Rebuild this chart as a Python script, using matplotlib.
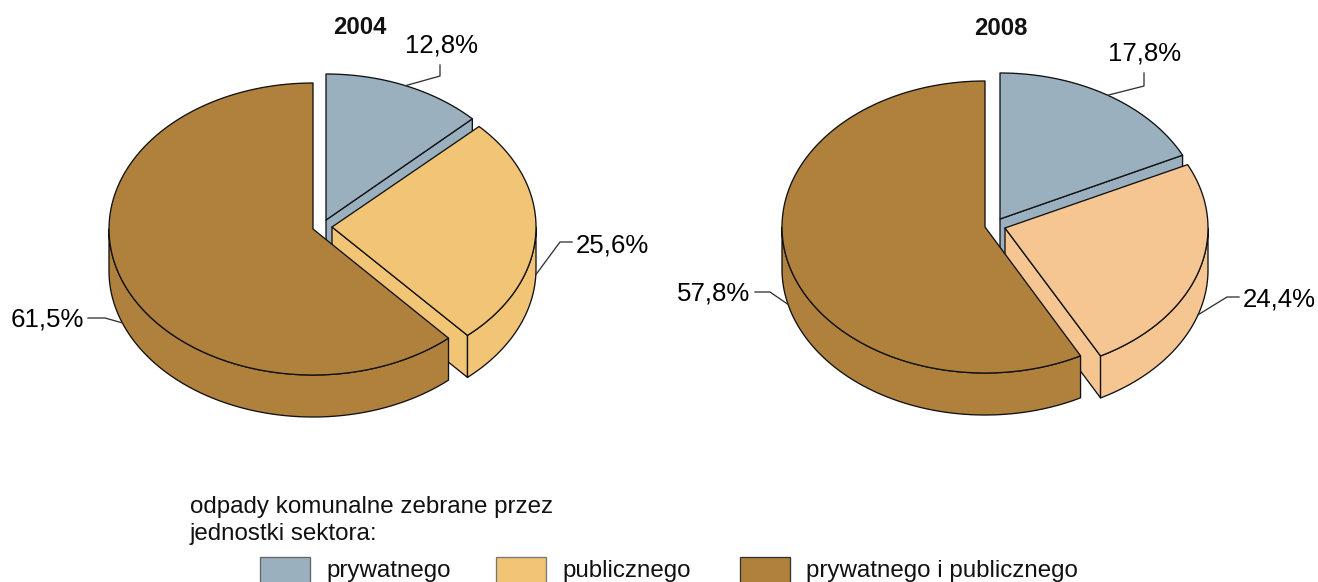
import numpy as np
import matplotlib
matplotlib.use("Agg")
import matplotlib.pyplot as plt
from matplotlib.patches import Polygon, Rectangle

plt.rcParams['font.family'] = ['Liberation Sans', 'DejaVu Sans']

years = ['2004', '2008']
sectors = ['prywatnego', 'publicznego', 'prywatnego i publicznego']
values_2004 = [12.8, 25.6, 61.5]
values_2008 = [17.8, 24.4, 57.8]
colors_2004 = ['#9AB0BE', '#F2C576', '#AF813D']
colors_2008 = ['#9AB0BE', '#F5C592', '#AF813D']
swatch_edges = ['#666666', '#777777', '#333333']
legend_title = ['odpady komunalne zebrane przez', 'jednostki sektora:']

EDGE = '#111111'
LEAD = '#333333'
DEPTH = 42

pies = [
    dict(year=years[0], values=values_2004, colors=colors_2004, title=(360, 34),
         apex=[(326, 220), (332, 227), (313, 229)], radii=[(203, 146), (204, 145), (204, 146)],
         leaders=[((440, 76), (440, 65), (405, 53), 'left'),
                  ((560, 242), (572, 242), (576, 252), 'left'),
                  ((105, 318), (88, 318), (84, 327), 'right')]),
    dict(year=years[1], values=values_2008, colors=colors_2008, title=(1001, 35),
         apex=[(1000, 219), (1005, 228), (985, 227)], radii=[(203, 146), (203, 145), (203, 146)],
         leaders=[((1144, 86), (1144, 73), (1108, 60), 'left'),
                  ((1227, 297), (1239, 297), (1243, 307), 'left'),
                  ((770, 292), (755, 292), (750, 301), 'right')]),
]

fig = plt.figure(figsize=(13.18, 5.82), dpi=100)
ax = fig.add_axes([0, 0, 1, 1])
ax.set_xlim(0, 1318)
ax.set_ylim(582, 0)
ax.axis('off')


def pt(c, r, t):
    t = np.radians(t)
    return c[0] + r[0] * np.sin(t), c[1] - r[1] * np.cos(t)


def arc(c, r, a, b):
    ts = np.linspace(a, b, 120)
    return np.column_stack(pt(c, r, ts))


def poly(xy, color):
    ax.add_patch(Polygon(xy, closed=True, facecolor=color, edgecolor=EDGE,
                         linewidth=0.95, joinstyle='round'))


def draw_wedge(c, r, a, b, color):
    shift = np.array([0, DEPTH])
    # radial face at the clockwise end of the wedge
    if b < 180:
        p = np.array(pt(c, r, b))
        poly([c, p, p + shift, np.array(c) + shift], color)
    # outer rim, only on the front half
    lo, hi = max(a, 90), min(b, 270)
    if lo < hi:
        top = arc(c, r, lo, hi)
        poly(np.vstack([top, top[::-1] + shift]), color)
    # top surface
    poly(np.vstack([[c], arc(c, r, a, b)]), color)


for pie in pies:
    vals = np.array(pie['values'])
    edges = np.concatenate([[0], np.cumsum(vals)]) / vals.sum() * 360
    for i in range(len(vals)):
        draw_wedge(pie['apex'][i], pie['radii'][i], edges[i], edges[i + 1], pie['colors'][i])
    for i, (knee, end, label, ha) in enumerate(pie['leaders']):
        mid = (edges[i] + edges[i + 1]) / 2
        x, y = pt(pie['apex'][i], pie['radii'][i], mid)
        if 90 < mid < 270:
            y += DEPTH
        ax.plot([x, knee[0], end[0]], [y, knee[1], end[1]], color=LEAD, lw=0.95, zorder=5)
        txt = f"{vals[i]:.1f}%".replace('.', ',')
        ax.text(label[0], label[1], txt, ha=ha, va='baseline', fontsize=18.6, color='black')
    ax.text(pie['title'][0], pie['title'][1], pie['year'], ha='center', va='baseline',
            fontsize=17.2, fontweight='bold', color='#111111')

ax.text(190, 513, legend_title[0], fontsize=17.4, va='baseline', color='#111111')
ax.text(190, 540, legend_title[1], fontsize=17.4, va='baseline', color='#111111')

swatch_x = [260, 496, 740]
for sx, col, ec, name in zip(swatch_x, colors_2004, swatch_edges, sectors):
    ax.add_patch(Rectangle((sx, 557), 50, 40, facecolor=col, edgecolor=ec, linewidth=0.95))
    ax.text(sx + 66, 577, name, fontsize=17.4, va='baseline', color='#111111')

fig.savefig('out.png', dpi=100)
